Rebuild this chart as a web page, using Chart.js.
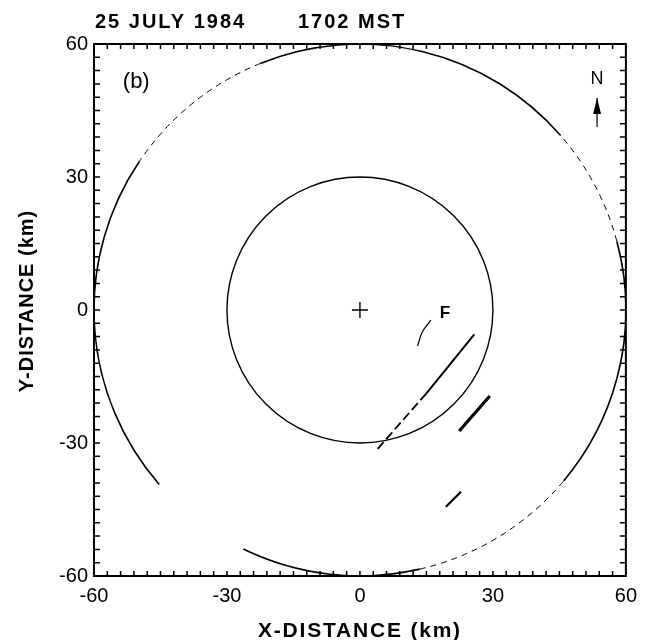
<!DOCTYPE html>
<html>
<head>
<meta charset="utf-8">
<script src="https://cdn.jsdelivr.net/npm/chart.js@4.4.1/dist/chart.umd.min.js"></script>
<style>
  html, body { margin: 0; padding: 0; background: #fff; }
  #wrap { width: 645px; height: 640px; }
</style>
</head>
<body>
<div id="wrap"><canvas id="radarChart" width="645" height="640"></canvas></div>
<script>
// axis ticks (km)
var tickLabels = [-60, -30, 0, 30, 60];
var minorStep = 3;
var rangeRings = [30, 60];

// features (km)
var longFrontX = [25.8, 15.0];
var longFrontY = [-5.5, -18.8];
var longFrontTailX = [15.0, 3.4];
var longFrontTailY = [-18.8, -32.0];
var fArcX = [16.0, 14.1, 13.0];
var fArcY = [-2.3, -4.9, -8.1];
var eastLineX = [29.3, 22.4];
var eastLineY = [-19.4, -27.3];
var southLineX = [22.8, 19.4];
var southLineY = [-41.0, -44.4];
var radarX = [0];
var radarY = [0];

// pieces of the 60 km ring, degrees counter-clockwise from east
var outerSolid = [[-15, 15], [41, 112], [146, 221], [244, 283], [320, 345]];
var outerFaint = [[15, 41], [112, 146], [283, 320]];

var FONT = "'Liberation Sans', Arial, Helvetica, sans-serif";

function pts(xs, ys) {
    return xs.map(function (x, i) { return { x: x, y: ys[i] }; });
}

function lineSet(xs, ys, width, dash) {
    return {
        data: pts(xs, ys),
        showLine: true,
        borderColor: '#000',
        borderWidth: width,
        borderDash: dash || [],
        pointRadius: 0,
        tension: 0.4
    };
}

function spaced(ctx, px) {
    if ('letterSpacing' in ctx) ctx.letterSpacing = px + 'px';
}

var figureDecor = {
    id: 'figureDecor',
    beforeDatasetsDraw: function (chart) {
        var ctx = chart.ctx, a = chart.chartArea;
        var xs = chart.scales.x, ys = chart.scales.y;
        var cx = xs.getPixelForValue(0), cy = ys.getPixelForValue(0);
        ctx.save();
        ctx.beginPath();
        ctx.rect(a.left, a.top, a.right - a.left, a.bottom - a.top);
        ctx.clip();
        ctx.strokeStyle = '#000';
        // inner ring
        var r1 = xs.getPixelForValue(rangeRings[0]) - cx;
        ctx.lineWidth = 1.4;
        ctx.beginPath();
        ctx.arc(cx, cy, r1, 0, Math.PI * 2);
        ctx.stroke();
        // outer ring, broken as in the print
        var r2 = xs.getPixelForValue(rangeRings[1]) - cx;
        outerSolid.forEach(function (s) {
            ctx.lineWidth = 1.6;
            ctx.setLineDash([]);
            ctx.beginPath();
            ctx.arc(cx, cy, r2, -s[0] * Math.PI / 180, -s[1] * Math.PI / 180, true);
            ctx.stroke();
        });
        outerFaint.forEach(function (s) {
            ctx.lineWidth = 1;
            ctx.setLineDash([6, 5]);
            ctx.beginPath();
            ctx.arc(cx, cy, r2, -s[0] * Math.PI / 180, -s[1] * Math.PI / 180, true);
            ctx.stroke();
        });
        ctx.restore();
    },
    afterDraw: function (chart) {
        var ctx = chart.ctx, a = chart.chartArea;
        var xs = chart.scales.x, ys = chart.scales.y;
        ctx.save();
        ctx.strokeStyle = '#000';
        ctx.fillStyle = '#000';
        // frame
        ctx.lineWidth = 2;
        ctx.strokeRect(a.left, a.top, a.right - a.left, a.bottom - a.top);
        // inward ticks
        ctx.lineWidth = 1.5;
        ctx.beginPath();
        for (var v = xs.min; v <= xs.max; v += minorStep) {
            var px = xs.getPixelForValue(v);
            ctx.moveTo(px, a.bottom); ctx.lineTo(px, a.bottom - 5);
            ctx.moveTo(px, a.top); ctx.lineTo(px, a.top + 5);
            var py = ys.getPixelForValue(v);
            ctx.moveTo(a.left, py); ctx.lineTo(a.left + 6, py);
            ctx.moveTo(a.right, py); ctx.lineTo(a.right - 6, py);
        }
        ctx.stroke();
        // title
        ctx.font = 'bold 20px ' + FONT;
        spaced(ctx, 2);
        ctx.textAlign = 'left';
        ctx.textBaseline = 'alphabetic';
        ctx.fillText('25 JULY 1984', 95, 28);
        ctx.fillText('1702 MST', 298, 28);
        // axis titles
        ctx.font = 'bold 21px ' + FONT;
        spaced(ctx, 1.8);
        ctx.textAlign = 'center';
        ctx.fillText('X-DISTANCE (km)', (a.left + a.right) / 2, 637);
        ctx.save();
        ctx.translate(33, 301);
        ctx.rotate(-Math.PI / 2);
        ctx.font = 'bold 20px ' + FONT;
        spaced(ctx, 1);
        ctx.fillText('Y-DISTANCE (km)', 0, 0);
        ctx.restore();
        spaced(ctx, 0);
        // panel label
        ctx.font = '22px ' + FONT;
        ctx.textAlign = 'left';
        ctx.textBaseline = 'middle';
        ctx.fillText('(b)', xs.getPixelForValue(-53.5), ys.getPixelForValue(51.4));
        // F
        ctx.font = 'bold 17px ' + FONT;
        ctx.textAlign = 'center';
        ctx.fillText('F', xs.getPixelForValue(19.2), ys.getPixelForValue(-0.7));
        // north arrow
        var nx = xs.getPixelForValue(53.5);
        ctx.font = '18px ' + FONT;
        ctx.fillText('N', nx, ys.getPixelForValue(52.1));
        var tip = ys.getPixelForValue(47.8), tail = ys.getPixelForValue(41.3);
        ctx.lineWidth = 1.2;
        ctx.beginPath();
        ctx.moveTo(nx, tip); ctx.lineTo(nx, tail);
        ctx.stroke();
        ctx.beginPath();
        ctx.moveTo(nx, tip);
        ctx.lineTo(nx - 4, tip + 16);
        ctx.lineTo(nx + 4, tip + 16);
        ctx.closePath();
        ctx.fill();
        ctx.restore();
    }
};

var ctxR = document.getElementById('radarChart').getContext('2d');
var radarChart = new Chart(ctxR, {
    type: 'scatter',
    data: {
        datasets: [
            lineSet(longFrontX, longFrontY, 2),
            lineSet(longFrontTailX, longFrontTailY, 1.8, [9, 4]),
            lineSet(fArcX, fArcY, 1.3),
            lineSet(eastLineX, eastLineY, 3.2),
            lineSet(southLineX, southLineY, 2.2),
            {
                data: pts(radarX, radarY),
                pointStyle: 'cross',
                pointRadius: 8,
                borderColor: '#000',
                borderWidth: 1.4,
                showLine: false
            }
        ]
    },
    options: {
        responsive: false,
        animation: false,
        layout: { padding: { top: 44, right: 19, left: 0, bottom: 0 } },
        plugins: {
            legend: { display: false },
            tooltip: { enabled: false }
        },
        scales: {
            x: {
                type: 'linear',
                min: -60,
                max: 60,
                afterBuildTicks: function (s) { s.ticks = tickLabels.map(function (v) { return { value: v }; }); },
                afterFit: function (s) { s.height = 64; },
                grid: { display: false, drawTicks: false },
                border: { display: false },
                ticks: { color: '#000', padding: 8, maxRotation: 0, font: { size: 20, family: FONT } }
            },
            y: {
                type: 'linear',
                min: -60,
                max: 60,
                afterBuildTicks: function (s) { s.ticks = tickLabels.map(function (v) { return { value: v }; }); },
                afterFit: function (s) { s.width = 94; },
                grid: { display: false, drawTicks: false },
                border: { display: false },
                ticks: { color: '#000', padding: 6, font: { size: 20, family: FONT } }
            }
        }
    },
    plugins: [figureDecor]
});
</script>
</body>
</html>
